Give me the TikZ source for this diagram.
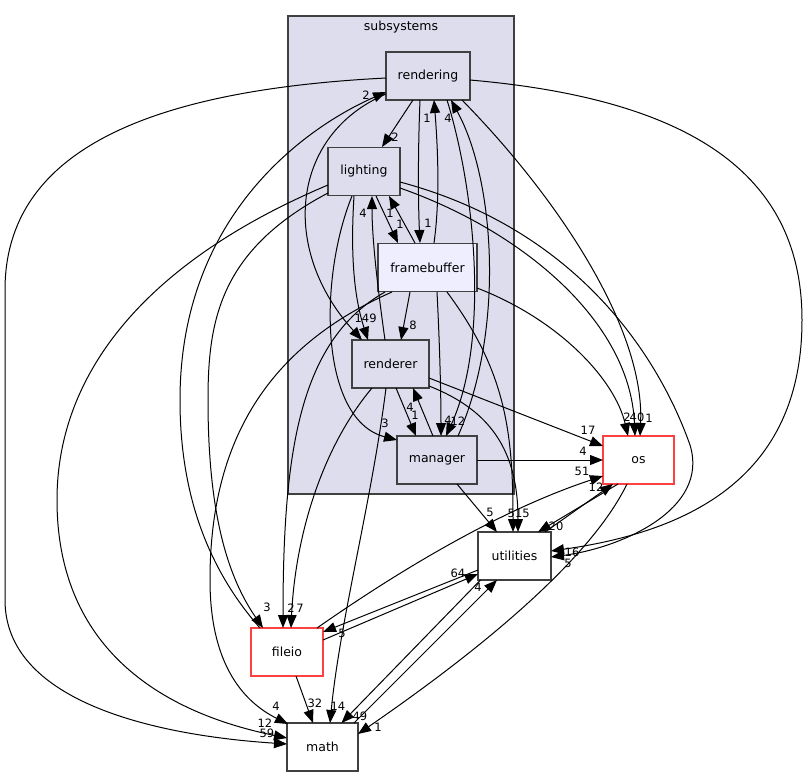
\documentclass[tikz,border=0pt]{standalone}
\usepackage{fontspec}
\setmainfont{DejaVu Sans}
\usetikzlibrary{arrows.meta,calc}
\definecolor{clfill}{HTML}{DDDDEE}
\definecolor{fbfill}{HTML}{EEEEFF}
\definecolor{bgray}{HTML}{404040}
\definecolor{redb}{HTML}{FF4040}
\tikzset{
  cluster/.style={draw=bgray, fill=clfill, line width=1.2pt, inner sep=0pt},
  dirbox/.style={draw=bgray, line width=1.4pt, minimum height=48pt, inner sep=0pt,
    font=\fontsize{12.5}{15}\selectfont},
  inbox/.style={dirbox, fill=clfill},
  outbox/.style={dirbox, fill=white},
  redbox/.style={dirbox, fill=white, draw=redb},
  dep/.style={line width=1pt, -{Triangle[length=13pt,width=10pt]}},
  elab/.style={font=\fontsize{11.5}{13}\selectfont, inner sep=0pt},
}
\begin{document}
\begin{tikzpicture}[x=1pt,y=-1pt]
\useasboundingbox (0,0) rectangle (807,777);
\node[cluster, minimum width=226pt, minimum height=478pt] (sub) at (401,255) {};
\node[font=\fontsize{12.5}{15}\selectfont, inner sep=0pt] (subl) at (401,27) {subsystems};
% nodes
\node[inbox, minimum width=84pt] (rendering) at (428,76) {rendering};
\node[inbox, minimum width=72pt] (lighting) at (364,171.5) {lighting};
\node[dirbox, fill=fbfill, minimum width=99pt] (framebuffer) at (427.5,267.5) {framebuffer};
\node[inbox, minimum width=77pt] (renderer) at (390.5,364) {renderer};
\node[inbox, minimum width=80pt] (manager) at (437,460) {manager};
\node[redbox, minimum width=71pt] (os) at (638.5,460) {os};
\node[outbox, minimum width=73pt] (utilities) at (514.5,556) {utilities};
\node[redbox, minimum width=72pt] (fileio) at (287,652) {fileio};
\node[outbox, minimum width=71pt] (math) at (322.5,747) {math};
% edges
\draw[dep] ($(rendering)+(-15,24)$) -- ($(lighting)+(18,-24.5)$);
\draw[dep] ($(rendering)+(-8,24)$) .. controls (418,150) and (418,200) .. ($(framebuffer)+(-7.5,-24.5)$);
\draw[dep] ($(rendering)+(-42,18)$) .. controls (290,135) and (280,250) .. ($(renderer)+(-28.5,-24)$);
\draw[dep] ($(rendering)+(19,24)$) .. controls (475,190) and (490,340) .. ($(manager)+(9,-24)$);
\draw[dep] ($(rendering)+(34,24)$) .. controls (560,200) and (645,330) .. ($(os)+(1.5,-24)$);
\draw[dep] ($(rendering)+(42,4)$) .. controls (700,100) and (802,180) .. (802,320) .. controls (802,470) and (700,530) .. ($(utilities)+(36.5,-5)$);
\draw[dep] ($(rendering)+(-42,2)$) .. controls (150,90) and (5,150) .. (5,290) -- (5,600) .. controls (5,700) and (150,735) .. ($(math)+(-35.5,-3)$);
\draw[dep] ($(lighting)+(12,24.5)$) -- ($(framebuffer)+(-29.5,-24.5)$);
\draw[dep] ($(framebuffer)+(-12.5,-24.5)$) -- ($(lighting)+(25,24.5)$);
\draw[dep] ($(lighting)+(-10,24.5)$) .. controls (350,260) and (355,300) .. ($(renderer)+(-22.5,-24)$);
\draw[dep] ($(lighting)+(-12,24.5)$) .. controls (318,280) and (320,420) .. ($(manager)+(-40,-20)$);
\draw[dep] ($(lighting)+(36,16.5)$) .. controls (520,230) and (630,320) .. ($(os)+(-3.5,-24)$);
\draw[dep] ($(lighting)+(36,10.5)$) .. controls (580,230) and (660,360) .. (690,445) .. controls (710,510) and (620,548) .. ($(utilities)+(36.5,1)$);
\draw[dep] ($(lighting)+(-36,21.5)$) .. controls (220,250) and (208,320) .. (208,400) .. controls (208,520) and (230,580) .. ($(fileio)+(-24,-24)$);
\draw[dep] ($(lighting)+(-36,13.5)$) .. controls (150,260) and (57,370) .. (57,500) .. controls (57,640) and (150,710) .. ($(math)+(-35.5,-9)$);
\draw[dep] ($(framebuffer)+(6.5,-24.5)$) .. controls (440,200) and (438,150) .. ($(rendering)+(6,24)$);
\draw[dep] ($(framebuffer)+(-17.5,24.5)$) -- ($(renderer)+(10.5,-24)$);
\draw[dep] ($(framebuffer)+(9.5,24.5)$) .. controls (440,350) and (441,400) .. ($(manager)+(4,-24)$);
\draw[dep] ($(framebuffer)+(49.5,20.5)$) .. controls (560,320) and (615,380) .. ($(os)+(-10.5,-24)$);
\draw[dep] ($(framebuffer)+(19.5,24.5)$) .. controls (505,370) and (513,430) .. ($(utilities)+(-1.5,-24)$);
\draw[dep] ($(framebuffer)+(-42.5,24.5)$) .. controls (300,340) and (283,450) .. ($(fileio)+(-4,-24)$);
\draw[dep] ($(framebuffer)+(-35.5,24.5)$) .. controls (260,350) and (210,450) .. (210,580) .. controls (210,660) and (240,700) .. ($(math)+(-34.5,-23)$);
\draw[dep] ($(renderer)+(-5.5,-24)$) .. controls (378,290) and (372,240) .. ($(lighting)+(8,24.5)$);
\draw[dep] ($(renderer)+(5.5,24)$) -- ($(manager)+(-21,-24)$);
\draw[dep] ($(manager)+(-4,-24)$) -- ($(renderer)+(22.5,24)$);
\draw[dep] ($(renderer)+(38.5,14)$) -- ($(os)+(-35.5,-14)$);
\draw[dep] ($(renderer)+(38.5,22)$) .. controls (490,410) and (518,450) .. ($(utilities)+(3.5,-24)$);
\draw[dep] ($(renderer)+(-18.5,24)$) .. controls (320,450) and (295,540) .. ($(fileio)+(4,-24)$);
\draw[dep] ($(renderer)+(-4.5,24)$) .. controls (372,500) and (340,620) .. ($(math)+(7.5,-24)$);
\draw[dep] ($(manager)+(20,24)$) -- ($(utilities)+(-17.5,-24)$);
\draw[dep] ($(manager)+(40,0)$) -- ($(os)+(-35.5,0)$);
\draw[dep] ($(fileio)+(-27,-24)$) .. controls (200,560) and (180,480) .. (180,400) .. controls (180,220) and (300,130) .. ($(rendering)+(-42,16)$);
\draw[dep] ($(fileio)+(30,-24)$) .. controls (400,570) and (500,510) .. ($(os)+(-35.5,16)$);
\draw[dep] ($(fileio)+(36,-12)$) -- ($(utilities)+(-36.5,18)$);
\draw[dep] ($(utilities)+(-36.5,14)$) -- ($(fileio)+(36,-20)$);
\draw[dep] ($(fileio)+(9,24)$) -- ($(math)+(-9.5,-24)$);
\draw[dep] ($(utilities)+(-34,24)$) -- ($(math)+(19,-24)$);
\draw[dep] ($(math)+(31.5,-24)$) -- ($(utilities)+(-17.5,24)$);
\draw[dep] ($(utilities)+(30.5,-24)$) -- ($(os)+(-25.5,24)$);
\draw[dep] ($(os)+(-20.5,24)$) -- ($(utilities)+(23.5,-24)$);
\draw[dep] ($(os)+(-11.5,24)$) .. controls (590,560) and (480,650) .. ($(math)+(35.5,-13)$);
\draw[dep] ($(manager)+(21,-24)$) .. controls (505,330) and (495,180) .. ($(rendering)+(23,24)$);
% edge labels
\node[elab] (l1) at (395,137) {2};
\node[elab] (l2) at (428,223) {1};
\node[elab] (l3) at (362,318) {14};
\node[elab] (l4) at (458,421) {12};
\node[elab] (l5) at (649,418) {1};
\node[elab] (l6) at (572,552) {16};
\node[elab] (l7) at (267,733) {59};
\node[elab] (l8) at (400,224) {1};
\node[elab] (l9) at (390,213) {1};
\node[elab] (l10) at (373,318) {9};
\node[elab] (l11) at (385,423) {3};
\node[elab] (l12) at (637,417) {40};
\node[elab] (l13) at (568,563) {5};
\node[elab] (l14) at (267,607) {3};
\node[elab] (l15) at (265,723) {12};
\node[elab] (l16) at (427,118) {1};
\node[elab] (l17) at (413,325) {8};
\node[elab] (l18) at (448,420) {4};
\node[elab] (l19) at (627,417) {2};
\node[elab] (l20) at (515,513) {51};
\node[elab] (l21) at (291,608) {2};
\node[elab] (l22) at (276,706) {4};
\node[elab] (l23) at (363,213) {4};
\node[elab] (l24) at (415,415) {1};
\node[elab] (l25) at (410,407) {4};
\node[elab] (l26) at (588,430) {17};
\node[elab] (l27) at (526,513) {5};
\node[elab] (l28) at (300,608) {7};
\node[elab] (l29) at (338,706) {14};
\node[elab] (l30) at (490,512) {5};
\node[elab] (l31) at (583,451) {4};
\node[elab] (l32) at (366,95) {2};
\node[elab] (l33) at (582,471) {51};
\node[elab] (l34) at (458,573) {64};
\node[elab] (l35) at (342,633) {5};
\node[elab] (l36) at (315,703) {32};
\node[elab] (l37) at (360,716) {49};
\node[elab] (l38) at (478,587) {4};
\node[elab] (l39) at (596,487) {12};
\node[elab] (l40) at (556,526) {20};
\node[elab] (l41) at (378,727) {1};
\node[elab] (l42) at (448,118) {4};
\end{tikzpicture}
\end{document}
